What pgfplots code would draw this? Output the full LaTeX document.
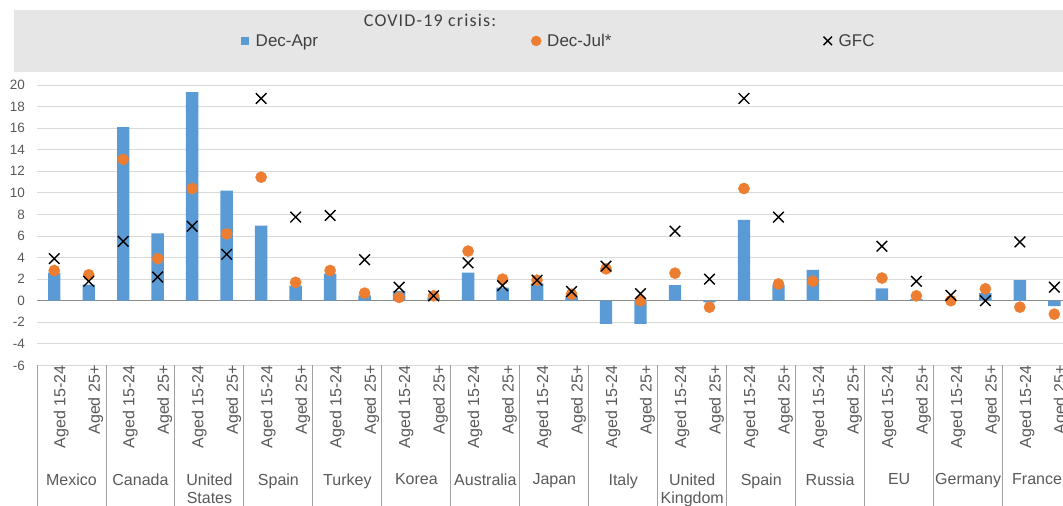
\documentclass[border=0pt]{standalone}
\usepackage{fontspec}
\setmainfont{Liberation Sans}
\newfontfamily\carlito[LetterSpace=6.5]{Carlito}
\usepackage{pgfplots}
\pgfplotsset{compat=1.18}
\definecolor{barblue}{HTML}{5B9BD5}
\definecolor{dotorange}{HTML}{ED7D31}
\definecolor{gridgray}{HTML}{D9D9D9}
\definecolor{zerogray}{HTML}{8C8C8C}
\definecolor{sepgray}{HTML}{A0A0A0}
\definecolor{textgray}{HTML}{595959}
\definecolor{leggray}{HTML}{E6E6E6}
\pgfplotsset{
  markleg/.style={legend image code/.code={\path[draw=none, fill=none] (0pt,-4pt) rectangle (8pt,4pt); \draw[##1, overlay, mark size=#1] plot coordinates {(4pt,0pt)};}},
  barleg/.style={legend image code/.code={\fill[barblue] (0pt,-4pt) rectangle (8pt,4pt);}},
}
\newcommand{\legtext}[1]{\makebox[279.5pt][l]{\hspace{5pt}#1}}
\begin{document}
\begin{tikzpicture}[x=1pt,y=1pt]
\fill[leggray] (14,434) rectangle (1063,496);
\node[font=\carlito\fontsize{18}{20}\selectfont, text=black!75, inner sep=0pt] at (430,486) {COVID-19 crisis:};
\begin{axis}[
  at={(37pt,140.6pt)}, anchor=south west,
  scale only axis, width=1026pt, height=280.4pt,
  xmin=-0.5, xmax=29.25, ymin=-6, ymax=20,
  ytick={-6,-4,...,20},
  ymajorgrids, grid style={gridgray, line width=0.9pt},
  axis line style={draw=none},
  major tick length=0pt,
  xtick={0,...,29},
  xticklabels={Aged 15-24,Aged 25+,Aged 15-24,Aged 25+,Aged 15-24,Aged 25+,Aged 15-24,Aged 25+,Aged 15-24,Aged 25+,Aged 15-24,Aged 25+,Aged 15-24,Aged 25+,Aged 15-24,Aged 25+,Aged 15-24,Aged 25+,Aged 15-24,Aged 25+,Aged 15-24,Aged 25+,Aged 15-24,Aged 25+,Aged 15-24,Aged 25+,Aged 15-24,Aged 25+,Aged 15-24,Aged 25+},
  xticklabel style={rotate=90, anchor=east, font=\fontsize{16}{18}\selectfont, text=textgray, inner sep=0pt, yshift=-7pt},
  yticklabel style={font=\fontsize{13.5}{16}\selectfont, text=textgray, inner sep=0pt, xshift=-12pt},
  /pgf/number format/assume math mode=true,
  clip=false,
  legend columns=3,
  legend style={at={(0.1984,1.157)}, anchor=west, draw=none, fill=none,
    font=\fontsize{17}{20}\selectfont, text=black!75,
    /tikz/every even column/.append style={column sep=0pt},
    inner sep=0pt},
  legend cell align=left,
]
\draw[zerogray, line width=1.3pt] (axis cs:-0.5,0) -- (axis cs:29.25,0);
\addplot[ybar, bar width=0.36, fill=barblue, draw=none, barleg]
  coordinates {(0,2.6) (1,1.5) (2,16.1) (3,6.25) (4,19.35) (5,10.2) (6,6.95) (7,1.4) (8,2.5) (9,0.5)
  (10,0.9) (11,0.3) (12,2.6) (13,1.2) (14,1.6) (15,0.4) (16,-2.15) (17,-2.15) (18,1.45) (19,-0.15)
  (20,7.5) (21,1.45) (22,2.85) (24,1.15) (25,0.15) (26,0.05) (27,0.7) (28,1.9) (29,-0.5)};
\addlegendentry{\legtext{Dec-Apr}}
\addplot[only marks, color=dotorange, mark=*, mark size=5.6pt, markleg=5pt]
  coordinates {(0,2.8) (1,2.4) (2,13.1) (3,3.9) (4,10.4) (5,6.2) (6,11.45) (7,1.7) (8,2.8) (9,0.7)
  (10,0.3) (11,0.45) (12,4.6) (13,2.0) (14,1.9) (15,0.6) (16,2.95) (17,0.0) (18,2.55) (19,-0.6)
  (20,10.4) (21,1.55) (22,1.8) (24,2.1) (25,0.45) (26,0.0) (27,1.1) (28,-0.6) (29,-1.25)};
\addlegendentry{\legtext{Dec-Jul*}}
\addplot[only marks, color=black, line width=1.4pt, mark=x, mark size=7.5pt, markleg=6pt]
  coordinates {(0,3.9) (1,1.8) (2,5.5) (3,2.2) (4,6.9) (5,4.3) (6,18.75) (7,7.75) (8,7.9) (9,3.8)
  (10,1.25) (11,0.45) (12,3.5) (13,1.4) (14,1.9) (15,0.85) (16,3.2) (17,0.65) (18,6.45) (19,2.0)
  (20,18.75) (21,7.75) (24,5.05) (25,1.8) (26,0.5) (27,0.0) (28,5.45) (29,1.25)};
\addlegendentry{\hspace{5pt}GFC}
\pgfplotsinvokeforeach{-0.5,1.5,3.5,5.5,7.5,9.5,11.5,13.5,15.5,17.5,19.5,21.5,23.5,25.5,27.5}{
  \draw[sepgray, line width=0.9pt] (axis cs:#1,-6) -- ++(0pt,-150pt);
}
\tikzset{cname/.style={anchor=north, font=\fontsize{16}{18}\selectfont, text=textgray, align=center, inner sep=0pt, yshift=-108pt}}
\node[cname] at (axis cs:0.5,-6) {Mexico};
\node[cname] at (axis cs:2.5,-6) {Canada};
\node[cname] at (axis cs:4.5,-6) {United\\States};
\node[cname] at (axis cs:6.5,-6) {Spain};
\node[cname] at (axis cs:8.5,-6) {Turkey};
\node[cname] at (axis cs:10.5,-6) {Korea};
\node[cname] at (axis cs:12.5,-6) {Australia};
\node[cname] at (axis cs:14.5,-6) {Japan};
\node[cname] at (axis cs:16.5,-6) {Italy};
\node[cname] at (axis cs:18.5,-6) {United\\Kingdom};
\node[cname] at (axis cs:20.5,-6) {Spain};
\node[cname] at (axis cs:22.5,-6) {Russia};
\node[cname] at (axis cs:24.5,-6) {EU};
\node[cname] at (axis cs:26.5,-6) {Germany};
\node[cname] at (axis cs:28.5,-6) {France};
\end{axis}
\pgfresetboundingbox
\path[use as bounding box] (0,0) rectangle (1063,506);
\end{tikzpicture}
\end{document}
